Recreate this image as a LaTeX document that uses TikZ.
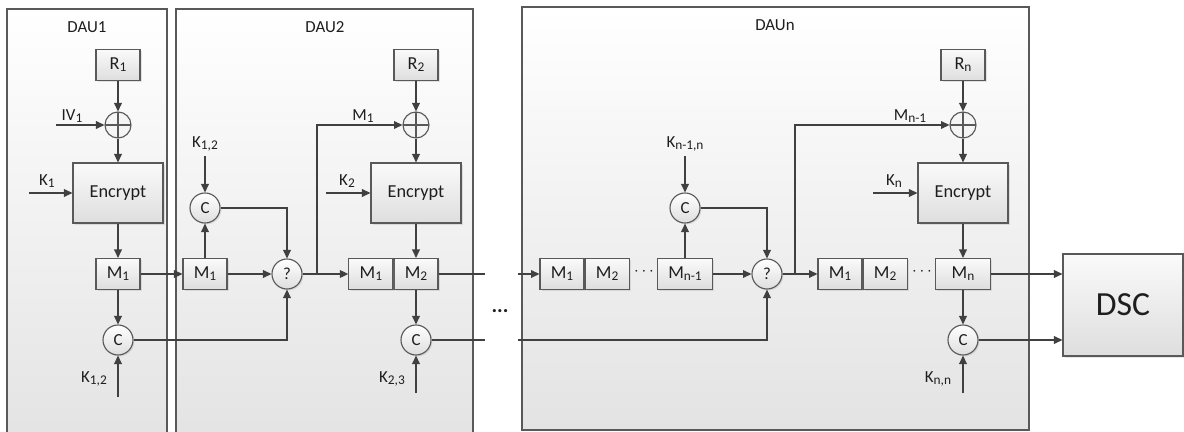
\documentclass[tikz,border=0pt]{standalone}
\usepackage{fontspec}
\setmainfont{Carlito}
\usepackage{tikz}
\usetikzlibrary{arrows.meta,positioning,shadows}
\definecolor{linegray}{HTML}{404040}
\definecolor{edgegray}{HTML}{595959}
\definecolor{panelgray}{HTML}{E3E3E3}
\definecolor{boxgray}{HTML}{DEDEDE}
\definecolor{inkgray}{HTML}{1E1E1E}
\newcommand{\ix}[1]{\raisebox{-0.2ex}{\fontsize{9.5}{10}\selectfont #1}}

\begin{document}
\begin{tikzpicture}[x=0.025cm,y=-0.025cm,font=\fontsize{12}{14}\selectfont,text=inkgray,
  panel/.style={draw=edgegray,line width=0.8pt,top color=white,bottom color=panelgray},
  blk/.style={draw=edgegray,line width=0.8pt,top color=black!2,bottom color=boxgray,
    minimum width=1.1cm,minimum height=0.775cm,inner sep=0pt,font=\fontsize{13}{15}\selectfont,
    drop shadow={opacity=0.2,shadow xshift=1.2pt,shadow yshift=-1.2pt}},
  encbox/.style={blk,minimum width=2.25cm,minimum height=1.5cm},
  cmb/.style={circle,draw=edgegray,line width=0.8pt,top color=white,bottom color=boxgray,
    minimum size=0.75cm,inner sep=0pt,drop shadow={opacity=0.2,shadow xshift=1pt,shadow yshift=-1pt}},
  xorc/.style={circle,draw=edgegray,line width=0.8pt,fill=black!4,minimum size=0.65cm,inner sep=0pt,
    path picture={\draw[edgegray,line width=0.8pt]
      (path picture bounding box.north) -- (path picture bounding box.south)
      (path picture bounding box.west) -- (path picture bounding box.east);}},
  lbl/.style={inner sep=1pt},
  arr/.style={draw=linegray,line width=0.8pt,-{Triangle[length=6pt,width=5.5pt]}},
  wire/.style={draw=linegray,line width=0.8pt}]

  \clip (0,0) rectangle (1184,432);

  % panels
  \draw[panel] (7,9) rectangle (167,445);
  \draw[panel] (176,9) rectangle (473,445);
  \draw[panel] (522,7) rectangle (1029,430);

  % DAU1
  \node[lbl] (dau1) at (87,27) {DAU1};
  \node[blk] (r1) at (118,65) {R\ix{1}};
  \node[xorc] (x1) at (118,125) {};
  \node[encbox] (enc1) at (118,193) {Encrypt};
  \node[blk] (m1) at (118,274) {M\ix{1}};
  \node[cmb] (c1) at (118,340) {C};
  \coordinate (iv1in) at (56,125);
  \coordinate (k1in) at (29,193);
  \coordinate (k12in) at (118,397);
  \node[lbl] (iv1) at (72,116) {IV\ix{1}};
  \node[lbl] (k1) at (47,181) {K\ix{1}};
  \node[lbl] (k12) at (94,379) {K\ix{1,2}};

  % DAU2
  \node[lbl] (dau2) at (325,27) {DAU2};
  \node[blk] (m21) at (205,274) {M\ix{1}};
  \node[cmb] (c21) at (205,208) {C};
  \node[cmb] (q2) at (287,274) {?};
  \node[blk] (r2) at (416,65) {R\ix{2}};
  \node[xorc] (x2) at (416,125) {};
  \node[encbox] (enc2) at (416,193) {Encrypt};
  \node[blk] (m22b) at (416,274) {M\ix{2}};
  \node[blk,left=0pt of m22b] (m22a) {M\ix{1}};
  \node[cmb] (c22) at (416,340) {C};
  \coordinate (b2) at (317,274);
  \coordinate (k12bin) at (205,156);
  \coordinate (k2in) at (326,193);
  \coordinate (k23in) at (416,393);
  \coordinate (o2top) at (485,274);
  \coordinate (o2bot) at (485,340);
  \node[lbl] (k12b) at (205,144) {K\ix{1,2}};
  \node[lbl] (m1lab) at (363,116) {M\ix{1}};
  \node[lbl] (k2) at (347,181) {K\ix{2}};
  \node[lbl] (k23) at (392,379) {K\ix{2,3}};

  % gap
  \node (gapdots) at (500,311) {\fontsize{15}{15}\selectfont\textbf{...}};

  % DAUn
  \node[lbl] (daun) at (775,25) {DAUn};
  \coordinate (i3top) at (518,274);
  \coordinate (i3bot) at (518,340);
  \node[blk] (m31a) at (562,274) {M\ix{1}};
  \node[blk,right=0pt of m31a] (m31b) {M\ix{2}};
  \node (dots3) at (644,272) {\textbf{$\cdots$}};
  \node[blk,minimum width=1.375cm] (m3p) at (685,274) {M\ix{n-1}};
  \node[cmb] (c3) at (685,208) {C};
  \node[cmb] (q3) at (767,274) {?};
  \coordinate (b3) at (795,274);
  \node[blk] (m41a) at (840,274) {M\ix{1}};
  \node[blk,right=0pt of m41a] (m41b) {M\ix{2}};
  \node (dots4) at (922,272) {\textbf{$\cdots$}};
  \node[blk,minimum width=1.375cm] (mn) at (963,274) {M\ix{n}};
  \node[blk] (rn) at (963,65) {R\ix{n}};
  \node[xorc] (xn) at (963,125) {};
  \node[encbox] (encn) at (963,193) {Encrypt};
  \node[cmb] (cn) at (963,340) {C};
  \coordinate (kn1in) at (685,156);
  \coordinate (knin) at (873,193);
  \coordinate (knnin) at (963,393);
  \node[lbl] (kn1n) at (685,144) {K\ix{n-1,n}};
  \node[lbl] (mn1lab) at (910,116) {M\ix{n-1}};
  \node[lbl] (kn) at (894,181) {K\ix{n}};
  \node[lbl] (knn) at (938,379) {K\ix{n,n}};

  % DSC
  \node[blk,minimum width=3cm,minimum height=2.55cm,font=\fontsize{24}{28}\selectfont] (dsc) at (1123,305) {DSC};

  % wires DAU1
  \draw[arr] (r1) -- (x1);
  \draw[arr] (iv1in) -- (x1);
  \draw[arr] (x1) -- (enc1);
  \draw[arr] (k1in) -- (enc1);
  \draw[arr] (enc1) -- (m1);
  \draw[arr] (m1) -- (c1);
  \draw[arr] (k12in) -- (c1);
  \draw[arr] (m1) -- (m21);

  % wires DAU2
  \draw[arr] (m21) -- (c21);
  \draw[arr] (k12bin) -- (c21);
  \draw[arr] (m21) -- (q2);
  \draw[arr] (c21) -| (q2);
  \draw[arr] (c1) -| (q2);
  \draw[arr] (q2) -- (m22a);
  \draw[arr] (b2) |- (x2);
  \draw[arr] (r2) -- (x2);
  \draw[arr] (x2) -- (enc2);
  \draw[arr] (k2in) -- (enc2);
  \draw[arr] (enc2) -- (m22b);
  \draw[arr] (m22b) -- (c22);
  \draw[arr] (k23in) -- (c22);
  \draw[wire] (m22b) -- (o2top);
  \draw[wire] (c22) -- (o2bot);

  % wires DAUn
  \draw[arr] (i3top) -- (m31a);
  \draw[arr] (i3bot) -| (q3);
  \draw[arr] (m3p) -- (c3);
  \draw[arr] (kn1in) -- (c3);
  \draw[arr] (m3p) -- (q3);
  \draw[arr] (c3) -| (q3);
  \draw[arr] (q3) -- (m41a);
  \draw[arr] (b3) |- (xn);
  \draw[arr] (rn) -- (xn);
  \draw[arr] (xn) -- (encn);
  \draw[arr] (knin) -- (encn);
  \draw[arr] (encn) -- (mn);
  \draw[arr] (mn) -- (cn);
  \draw[arr] (knnin) -- (cn);
  \draw[arr] (mn) -- (mn -| dsc.west);
  \draw[arr] (cn) -- (cn -| dsc.west);
\end{tikzpicture}
\end{document}
